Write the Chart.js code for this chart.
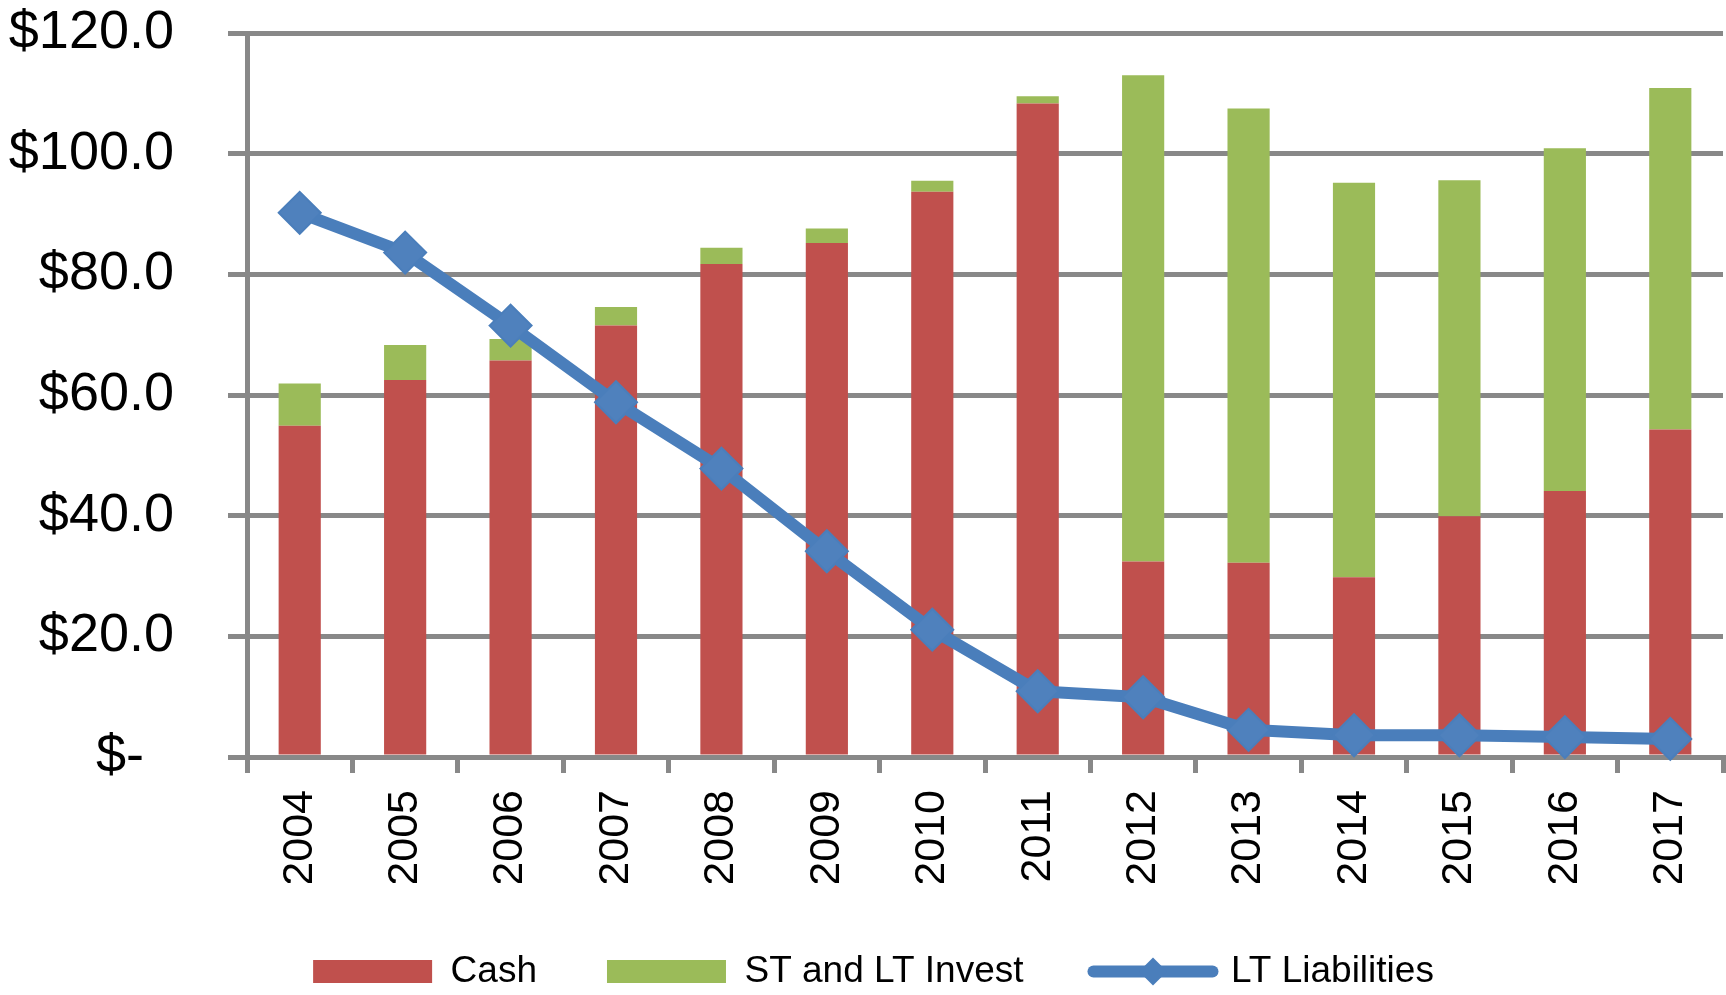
<!DOCTYPE html>
<html>
<head>
<meta charset="utf-8">
<script src="https://cdn.jsdelivr.net/npm/chart.js@4/dist/chart.umd.min.js"></script>
<style>
  html, body { margin: 0; padding: 0; background: #ffffff; }
  #wrap { width: 1726px; height: 995px; }
</style>
</head>
<body>
<div id="wrap"><canvas id="c" width="1726" height="995"></canvas></div>
<script>
const years = ['2004','2005','2006','2007','2008','2009','2010','2011','2012','2013','2014','2015','2016','2017'];
const cash = [54.9, 62.5, 65.7, 71.5, 81.7, 85.2, 93.7, 108.3, 32.4, 32.2, 29.8, 39.9, 44.1, 54.3];
const stLtInvest = [7.0, 5.8, 3.6, 3.1, 2.7, 2.4, 1.8, 1.2, 80.6, 75.3, 65.4, 55.7, 56.8, 56.6];
const ltLiabilities = [90.2, 83.6, 71.5, 58.8, 47.8, 34.1, 21.1, 10.9, 9.9, 4.5, 3.6, 3.6, 3.3, 3.0];
const yTickLabels = ['$-', '$20.0', '$40.0', '$60.0', '$80.0', '$100.0', '$120.0'];

const GRID = '#888888';
const FONT = '"Liberation Sans", Arial, sans-serif';

const legendFix = {
  id: 'legendFix',
  beforeLayout(chart) {
    const lg = chart.legend;
    if (lg && !lg._fixed) {
      const orig = lg.fit.bind(lg);
      lg.fit = function () { orig(); this.height = 112; };
      lg._fixed = true;
    }
  },
  afterDraw(chart) {
    const lg = chart.legend;
    if (!lg || !lg.legendHitBoxes) return;
    const items = lg.legendItems;
    const ctx = chart.ctx;
    items.forEach((it, i) => {
      if (it.datasetIndex !== 2) return;
      const hb = lg.legendHitBoxes[i];
      const cx = hb.left + 119 / 2;
      const cy = hb.top + hb.height / 2;
      const r = 14;
      ctx.save();
      ctx.fillStyle = '#4A7EBB';
      ctx.beginPath();
      ctx.moveTo(cx - r, cy);
      ctx.lineTo(cx, cy - r);
      ctx.lineTo(cx + r, cy);
      ctx.lineTo(cx, cy + r);
      ctx.closePath();
      ctx.fill();
      ctx.restore();
    });
  }
};

new Chart(document.getElementById('c'), {
  type: 'bar',
  data: {
    labels: years,
    datasets: [
      {
        label: 'Cash',
        data: cash,
        backgroundColor: '#C0504D',
        stack: 'assets',
        order: 1,
        barPercentage: 0.4,
        categoryPercentage: 1.0
      },
      {
        label: 'ST and LT Invest',
        data: stLtInvest,
        backgroundColor: '#9BBB59',
        stack: 'assets',
        order: 1,
        barPercentage: 0.4,
        categoryPercentage: 1.0
      },
      {
        type: 'line',
        label: 'LT Liabilities',
        data: ltLiabilities,
        borderColor: '#4A7EBB',
        backgroundColor: '#4A7EBB',
        borderWidth: 12,
        pointStyle: 'rectRot',
        pointRadius: 21,
        pointHoverRadius: 21,
        pointBorderWidth: 2,
        pointBorderColor: '#4A7EBB',
        pointBackgroundColor: '#4F81BD',
        stack: 'liab',
        order: 0,
        tension: 0,
        clip: false,
        borderCapStyle: 'round',
        borderJoinStyle: 'round'
      }
    ]
  },
  options: {
    responsive: false,
    animation: false,
    devicePixelRatio: 1,
    layout: { autoPadding: false, padding: { top: 0, right: 3, left: 24, bottom: 0 } },
    plugins: {
      tooltip: { enabled: false },
      legend: {
        position: 'bottom',
        labels: {
          usePointStyle: true,
          pointStyleWidth: 119,
          boxWidth: 119,
          boxHeight: 23,
          padding: 70,
          color: '#000000',
          font: { family: FONT, size: 37 },
          sort: (a, b) => a.datasetIndex - b.datasetIndex,
          generateLabels(chart) {
            const base = Chart.defaults.plugins.legend.labels.generateLabels(chart);
            return base.map(it => {
              if (it.datasetIndex === 2) {
                it.pointStyle = 'line';
                it.lineWidth = 12;
                it.lineCap = 'round';
                it.strokeStyle = '#4A7EBB';
              } else {
                it.pointStyle = 'rect';
                it.lineWidth = 0;
              }
              return it;
            });
          }
        }
      }
    },
    scales: {
      x: {
        stacked: true,
        grid: {
          display: true,
          drawOnChartArea: false,
          drawTicks: true,
          tickLength: 16,
          color: GRID,
          lineWidth: 5,
          offset: true
        },
        border: { display: true, color: GRID, width: 5 },
        ticks: {
          color: '#000000',
          font: { family: FONT, size: 43 },
          minRotation: 90,
          maxRotation: 90,
          padding: 17,
          autoSkip: false
        },
        afterFit(scale) {
          scale.height = 126;
          scale.paddingLeft = 0;
          scale.paddingRight = 0;
        }
      },
      y: {
        stacked: true,
        min: 0,
        max: 120,
        grid: {
          color: GRID,
          lineWidth: 5,
          tickLength: 19,
          drawTicks: true
        },
        border: { display: true, color: GRID, width: 5 },
        ticks: {
          stepSize: 20,
          color: '#000000',
          font: { family: FONT, size: 54 },
          padding: 54,
          callback: (v, i) => (i === 0 ? yTickLabels[0] + '\u2007' : yTickLabels[i])
        },
        afterFit(scale) {
          scale.width = 223;
          scale.paddingTop = 33;
          scale.paddingBottom = 0;
          scale._computeLabelArea = function () { return undefined; };
        }
      }
    }
  },
  plugins: [legendFix]
});
</script>
</body>
</html>
